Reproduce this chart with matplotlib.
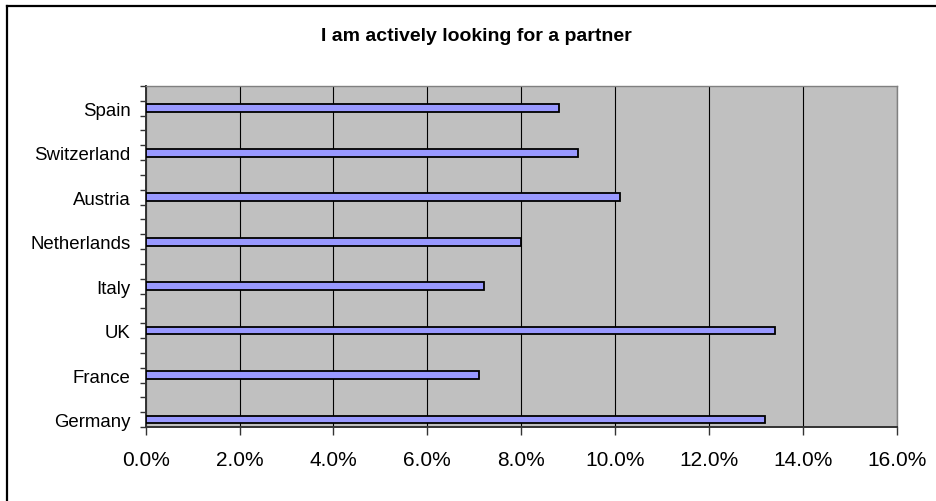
import matplotlib
matplotlib.use("Agg")
import matplotlib.pyplot as plt
from matplotlib.lines import Line2D
from matplotlib.ticker import FixedLocator, FuncFormatter

plt.rcParams['font.family'] = ['Liberation Sans', 'DejaVu Sans']

# Survey share answering "I am actively looking for a partner" (percent)
countries = ["Germany", "France", "UK", "Italy", "Netherlands", "Austria", "Switzerland", "Spain"]
shares = [13.2, 7.1, 13.4, 7.2, 8.0, 10.1, 9.2, 8.8]
x_ticks = [0, 2, 4, 6, 8, 10, 12, 14, 16]

# Category axis: each country occupies every third slot, one spare slot on top
slots_per_country = 3
n_slots = slots_per_country * len(countries) - 1
positions = [slots_per_country * i + 0.5 for i in range(len(countries))]

fig = plt.figure(figsize=(9.37, 5.02), dpi=100)
ax = fig.add_axes([145.7 / 937, 74 / 502, (896.7 - 145.7) / 937, (428 - 87) / 502])
ax.set_facecolor("#C0C0C0")

ax.barh(positions, shares, height=0.52, color="#9999FF", edgecolor="black",
        linewidth=1.3, zorder=3)

ax.set_xlim(0, 16)
ax.set_ylim(0, n_slots)

ax.xaxis.set_major_locator(FixedLocator(x_ticks))
ax.xaxis.set_major_formatter(FuncFormatter(lambda v, _: f"{v:.1f}%"))
ax.grid(axis="x", color="black", linewidth=0.8, zorder=1)
ax.set_axisbelow(True)

ax.yaxis.set_major_locator(FixedLocator(list(range(n_slots + 1))))
ax.yaxis.set_major_formatter(FuncFormatter(lambda v, _: ""))
ax.yaxis.set_minor_locator(FixedLocator(positions))
ax.set_yticklabels(countries, minor=True)

ax.tick_params(axis="y", which="major", length=4, width=1, color="#333333", direction="out")
ax.tick_params(axis="y", which="minor", length=0, pad=11, labelsize=13.4)
ax.tick_params(axis="x", which="major", length=5.5, width=1, color="#333333",
               direction="out", pad=11, labelsize=15)

for side in ("top", "right"):
    ax.spines[side].set_color("#808080")
    ax.spines[side].set_linewidth(1.0)
for side in ("left", "bottom"):
    ax.spines[side].set_color("#333333")
    ax.spines[side].set_linewidth(1.4)

fig.text(476.7 / 937, 1 - 36.5 / 502, "I am actively looking for a partner",
         ha="center", va="center", fontsize=14, fontweight="bold")

# Chart frame (top and left edges)
fig.add_artist(Line2D([7 / 937, 1.0], [1 - 7 / 502, 1 - 7 / 502],
                      transform=fig.transFigure, color="black", linewidth=1.6))
fig.add_artist(Line2D([7 / 937, 7 / 937], [0.0, 1 - 7 / 502],
                      transform=fig.transFigure, color="black", linewidth=1.6))

fig.savefig("out.png", dpi=100, facecolor="white")
